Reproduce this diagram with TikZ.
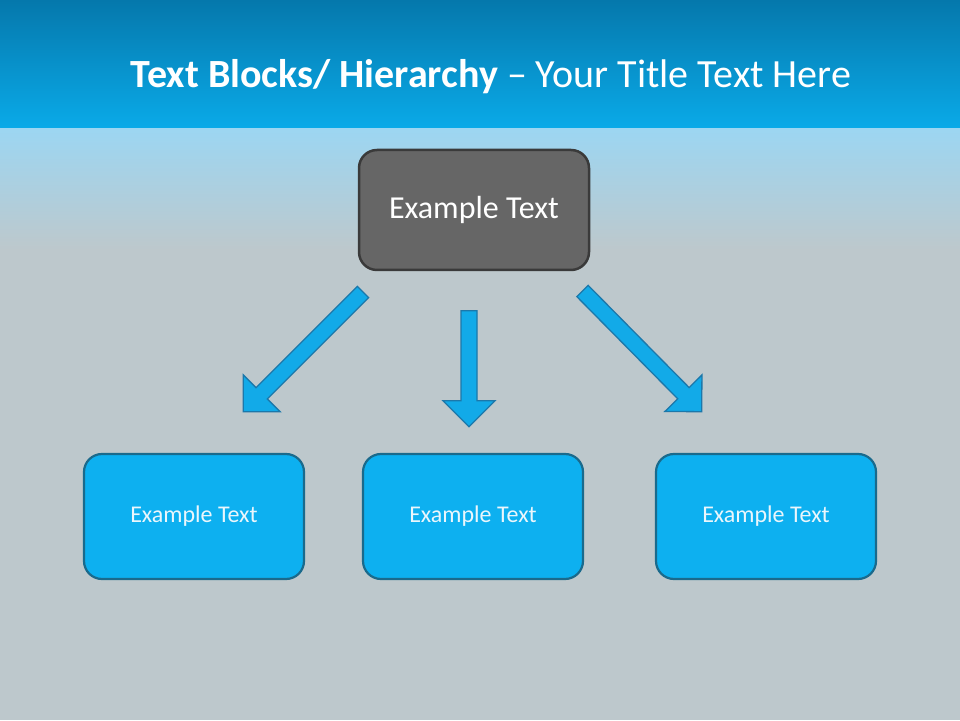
\documentclass[tikz,border=0pt]{standalone}
\usepackage{fontspec}
\setmainfont{Carlito}
\usetikzlibrary{calc}
\definecolor{bandtop}{HTML}{0578AC}
\definecolor{bandbot}{HTML}{0AAAE8}
\definecolor{bgblue}{HTML}{9CD6F2}
\definecolor{bggray}{HTML}{BDC8CC}
\definecolor{topfill}{HTML}{666666}
\definecolor{topline}{HTML}{3A3A3A}
\definecolor{boxfill}{HTML}{0DB0F0}
\definecolor{boxline}{HTML}{1A6A8C}
\definecolor{arrfill}{HTML}{12AAE8}
\definecolor{arrline}{HTML}{1C78AA}
\definecolor{boxtext}{HTML}{EAF6FC}
\tikzset{
  topbox/.style={draw=topline, line width=2.5pt, fill=topfill, rounded corners=18pt,
    minimum width=230pt, minimum height=120pt, inner sep=0pt, text=white, font=\fontsize{32}{38}\selectfont},
  subbox/.style={draw=boxline, line width=2.2pt, fill=boxfill, rounded corners=18pt,
    minimum width=220pt, minimum height=125pt, inner sep=0pt, text=boxtext, font=\fontsize{24}{28}\selectfont},
  blockarrow/.style={draw=arrline, line width=1.3pt, fill=arrfill, line join=miter}
}
\newcommand{\blkarrow}[2]{%
  \coordinate (#2b) at ($(#2)!26pt!(#1)$);
  \draw[blockarrow]
    ($(#1)!8pt!-90:(#2)$) -- ($(#2b)!8pt!90:(#1)$) -- ($(#2b)!26pt!90:(#1)$) -- (#2)
    -- ($(#2b)!26pt!-90:(#1)$) -- ($(#2b)!8pt!-90:(#1)$) -- ($(#1)!8pt!90:(#2)$) -- cycle;}
\begin{document}
\begin{tikzpicture}[x=1pt,y=1pt]
\useasboundingbox (0,0) rectangle (960,720);
% background
\fill[bggray] (0,0) rectangle (960,720);
\shade[top color=bgblue, bottom color=bggray] (0,470) rectangle (960,592);
\shade[top color=bandtop, bottom color=bandbot] (0,592) rectangle (960,720);
% title
\node[text=white, font=\fontsize{40}{46}\selectfont, anchor=base] (title) at (491,632)
  {\textbf{Text Blocks/ Hierarchy} – Your Title Text Here};
% boxes
\node[topbox] (top) at (474,510) {Example Text};
\node[subbox] (left) at (194,203.5) {Example Text};
\node[subbox] (mid) at (473,203.5) {Example Text};
\node[subbox] (right) at (766,203.5) {Example Text};
% arrows
\coordinate (ta) at (363,428);
\coordinate (ha) at (243.3,308.3);
\coordinate (tb) at (469,409.3);
\coordinate (hb) at (469,293.3);
\coordinate (tc) at (582.5,429);
\coordinate (hc) at (701.7,308.3);
\blkarrow{ta}{ha}
\blkarrow{tb}{hb}
\blkarrow{tc}{hc}
\end{tikzpicture}
\end{document}
